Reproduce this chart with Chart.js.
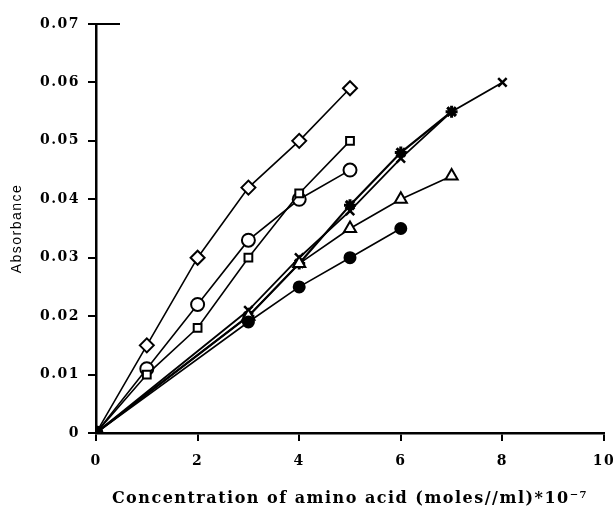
<!DOCTYPE html>
<html>
<head>
<meta charset="utf-8">
<script src="https://cdn.jsdelivr.net/npm/chart.js@4/dist/chart.umd.min.js"></script>
<style>
  html, body { margin: 0; padding: 0; background: #fff; }
  #wrap { width: 613px; height: 508px; position: relative; }
</style>
</head>
<body>
<div id="wrap"><canvas id="chart-absorbance"></canvas></div>
<script>
// values
const concA = [0, 1, 2, 3, 4, 5];
const diamondAbs = [0, 0.015, 0.030, 0.042, 0.050, 0.059];
const squareAbs  = [0, 0.010, 0.018, 0.030, 0.041, 0.050];
const circleAbs  = [0, 0.011, 0.022, 0.033, 0.040, 0.045];

const concCross = [0, 3, 4, 5, 6, 7, 8];
const crossAbs  = [0, 0.021, 0.030, 0.038, 0.047, 0.055, 0.060];

const concB = [0, 3, 4, 5, 6, 7];
const starAbs     = [0, 0.020, 0.029, 0.039, 0.048, 0.055];
const triangleAbs = [0, 0.020, 0.029, 0.035, 0.040, 0.044];

const concDot = [0, 3, 4, 5, 6];
const dotAbs  = [0, 0.019, 0.025, 0.030, 0.035];

const xTicks = [0, 2, 4, 6, 8, 10];
const yTicks = [0, 0.01, 0.02, 0.03, 0.04, 0.05, 0.06, 0.07];

const pts = (xs, ys) => xs.map((x, i) => ({ x, y: ys[i] }));

function series(xs, ys, style, opts = {}) {
  return Object.assign({
    data: pts(xs, ys),
    showLine: true,
    borderColor: '#000',
    borderWidth: 1.6,
    pointStyle: style,
    pointRadius: 6,
    pointBorderWidth: 2,
    pointBorderColor: '#000',
    pointBackgroundColor: c => c.dataIndex === 0 ? '#000' : '#fff'
  }, opts);
}

// typewriter-ish spacing on all text
const spacing = {
  id: 'spacing',
  beforeInit(chart) { chart.ctx.letterSpacing = '1.5px'; },
  beforeDraw(chart) { chart.ctx.letterSpacing = '1.5px'; }
};

// short bar at the top of the y axis
const topBar = {
  id: 'topBar',
  afterDraw(chart) {
    const y = chart.scales.y, ctx = chart.ctx;
    const py = y.getPixelForValue(0.07);
    ctx.save();
    ctx.strokeStyle = '#000';
    ctx.lineWidth = 2;
    ctx.beginPath();
    ctx.moveTo(y.right - 7, py);
    ctx.lineTo(y.right + 24, py);
    ctx.stroke();
    ctx.restore();
  }
};

const tickFont = { family: 'DejaVu Serif', weight: 'bold', size: 14 };

new Chart(document.getElementById('chart-absorbance'), {
  type: 'scatter',
  data: {
    datasets: [
      series(concDot, dotAbs, 'circle', { pointRadius: 5.5, pointBackgroundColor: '#000' }),
      series(concA, diamondAbs, 'rectRot', { pointRadius: 7 }),
      series(concA, squareAbs, 'rect', { pointRadius: 5.5 }),
      series(concA, circleAbs, 'circle', { pointRadius: 6.5 }),
      series(concB, triangleAbs, 'triangle', { pointRadius: 7 }),
      series(concB, starAbs, 'star', { pointRadius: 6, pointBorderWidth: 3, borderWidth: 2.2 }),
      series(concCross, crossAbs, 'crossRot', { pointRadius: 6, pointBorderWidth: 2.5, borderWidth: 1.8 })
    ]
  },
  options: {
    responsive: true, maintainAspectRatio: false,
    animation: false,
    layout: { padding: { left: 0, top: 24, right: 5, bottom: 0 } },
    plugins: { legend: { display: false }, tooltip: { enabled: false } },
    scales: {
      x: {
        type: 'linear', min: 0, max: 10,
        afterBuildTicks: s => { s.ticks = xTicks.map(v => ({ value: v })); },
        afterFit: s => { s.height = 75; s.paddingRight = 0; s.paddingLeft = 0; },
        grid: { drawOnChartArea: false, drawTicks: true, tickLength: 8, color: '#000', lineWidth: 2 },
        border: { display: true, color: '#000', width: 2.5 },
        ticks: { color: '#000', font: tickFont, padding: 12, maxRotation: 0 },
        title: {
          display: true,
          text: 'Concentration of amino acid (moles//ml)*10\u207B\u2077',
          color: '#000',
          font: { family: 'DejaVu Serif', weight: 'bold', size: 16 },
          padding: { top: 0, bottom: 0 }
        }
      },
      y: {
        type: 'linear', min: 0, max: 0.07,
        afterBuildTicks: s => { s.ticks = yTicks.map(v => ({ value: v })); },
        afterFit: s => { s.width = 96; },
        grid: { drawOnChartArea: false, drawTicks: true, tickLength: 8, color: '#000', lineWidth: 2 },
        border: { display: true, color: '#000', width: 2.5 },
        ticks: { color: '#000', font: tickFont, padding: 8, callback: v => v === 0 ? '0' : v.toFixed(2) },
        title: {
          display: true,
          text: 'Absorbance',
          color: '#000',
          font: { family: 'Liberation Sans', size: 14 },
          padding: { top: 9, bottom: 0 }
        }
      }
    }
  },
  plugins: [spacing, topBar]
});
</script>
</body>
</html>
